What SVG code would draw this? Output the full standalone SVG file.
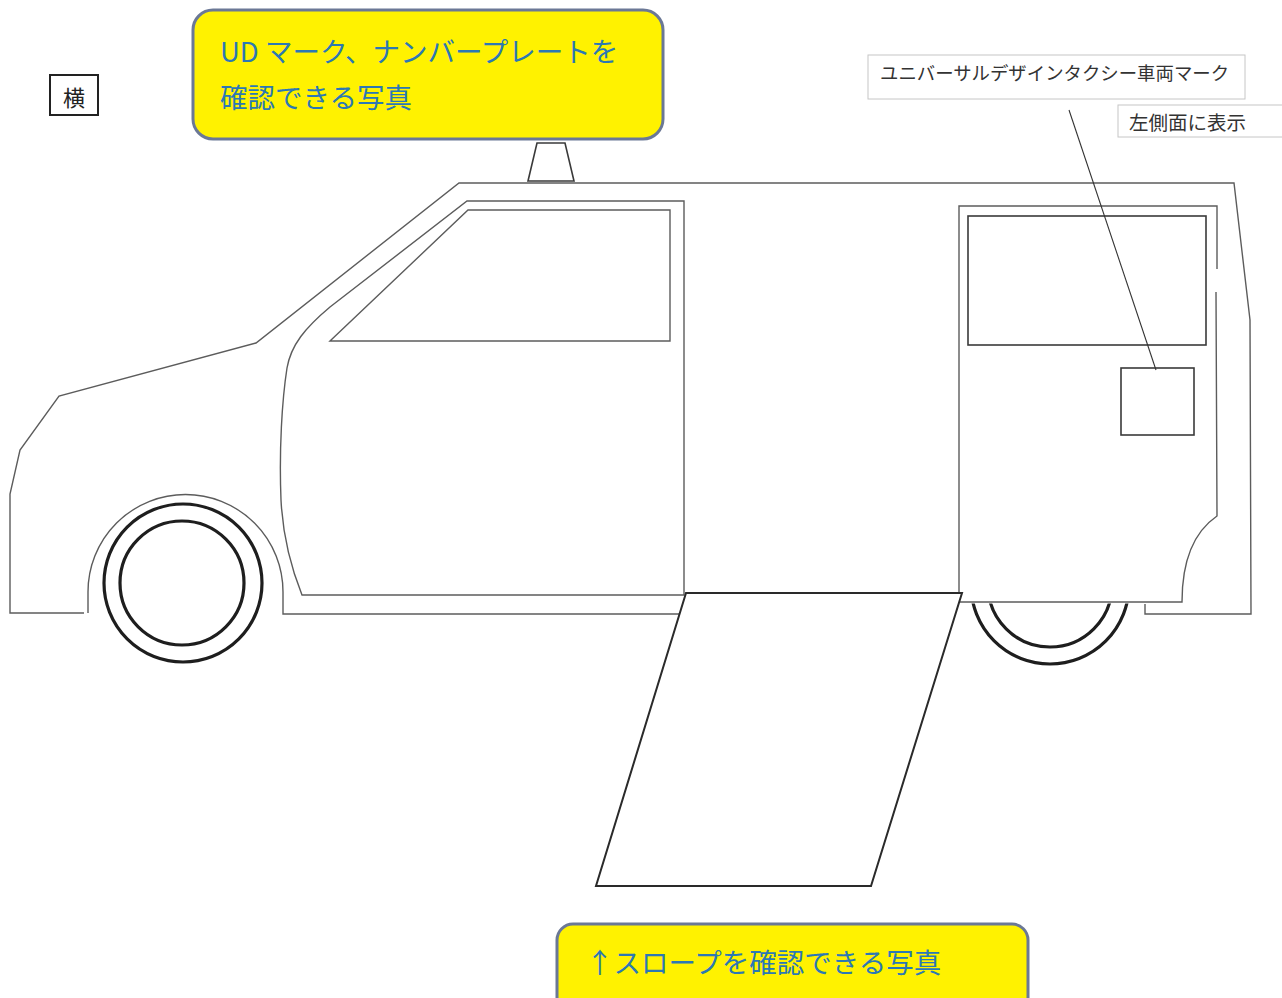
<svg xmlns="http://www.w3.org/2000/svg" width="1282" height="998" viewBox="0 0 1282 998">
  <style>
    .body { fill: none; stroke: #5c5c5c; stroke-width: 1.4; stroke-linejoin: miter; }
    .dark { fill: none; stroke: #3a3a3a; stroke-width: 1.6; }
    .tyre { fill: none; stroke: #1e1e1e; stroke-width: 3.2; }
    .callout { fill: #fff200; stroke: #6b7896; stroke-width: 3; }
    .callout-text { font-family: "Noto Sans CJK JP", "Noto Sans", sans-serif; font-size: 27.5px; fill: #2c78b4; }
    .label-box { fill: #ffffff; stroke: #c6c6c6; stroke-width: 1; }
    .label-text { font-family: "Noto Sans CJK JP", "Noto Sans", sans-serif; fill: #333333; }
    .leader { fill: none; stroke: #333333; stroke-width: 1.1; }
  </style>
  <defs>
    <clipPath id="below-door">
      <rect x="900" y="603.5" width="300" height="100"/>
    </clipPath>
  </defs>

  <rect width="1282" height="998" fill="#ffffff"/>

  <!-- view tag -->
  <g id="view-tag">
    <rect x="50" y="75" width="48" height="40" fill="#ffffff" stroke="#222222" stroke-width="2"/>
    <text x="74" y="105.5" text-anchor="middle" font-family="Noto Sans CJK JP, sans-serif" font-size="22" fill="#222222">横</text>
  </g>

  <!-- body shell -->
  <g id="body">
    <path class="body" d="M84,613 L10,613 L10,494 L20,450 L59,396 L256,343 L459,183 L1234,183 L1250,320 L1251,614 L1145,614 L1145,604"/>
    <path class="body" d="M88,613 L88,592 A97.5,97.5 0 0 1 283,592 L283,614 L680,614"/>
  </g>

  <!-- roof light -->
  <g id="roof-light">
    <path class="dark" d="M528,181 L537,143 L565,143 L574,181 Z" fill="#ffffff"/>
  </g>

  <!-- front door and window -->
  <g id="front-door">
    <path class="body" d="M302,595 C292,570 283,540 281,500 C279,450 282,400 287,368 C291,345 305,328 330,307 L467,201 L684,201 L684,595 Z"/>
    <path class="body" d="M330,341 L468,210 L670,210 L670,341 Z"/>
  </g>

  <!-- sliding rear door, window and mark area -->
  <g id="rear-door">
    <path class="body" d="M1217,269 L1217,206 L959,206 L959,602 L1182,602 Q1182,540 1217,516 L1216,292"/>
    <rect class="dark" x="968" y="216" width="238" height="129"/>
  </g>

  <g id="ud-mark">
    <rect class="dark" x="1121" y="368" width="73" height="67" stroke-width="1.3"/>
  </g>

  <!-- wheels -->
  <g id="front-wheel">
    <circle class="tyre" cx="183" cy="583" r="79"/>
    <circle class="tyre" cx="182" cy="583" r="62"/>
  </g>
  <g id="rear-wheel" clip-path="url(#below-door)">
    <circle class="tyre" cx="1050" cy="585" r="79"/>
    <circle class="tyre" cx="1050" cy="585" r="62"/>
  </g>

  <!-- deployed slope -->
  <g id="slope">
    <path d="M686,593 L962,593 L871,886 L596,886 Z" fill="#ffffff" stroke="#2a2a2a" stroke-width="2"/>
  </g>

  <!-- caption labels -->
  <g id="label-mark">
    <rect class="label-box" x="868" y="55" width="377" height="44"/>
    <text class="label-text" x="880" y="80" font-size="18.4">ユニバーサルデザインタクシー車両マーク</text>
  </g>
  <g id="label-side">
    <rect class="label-box" x="1118" y="105" width="170" height="32"/>
    <text class="label-text" x="1129" y="129.5" font-size="19.5">左側面に表示</text>
  </g>

  <!-- photo callouts -->
  <g id="callout-top">
    <rect class="callout" x="193" y="10" width="470" height="129" rx="20" ry="20"/>
    <text class="callout-text" x="220" y="61.5">UD マーク、ナンバープレートを</text>
    <text class="callout-text" x="220" y="108">確認できる写真</text>
  </g>
  <g id="callout-bottom">
    <rect class="callout" x="557" y="924" width="471" height="100" rx="16" ry="16"/>
    <text class="callout-text" x="586" y="973">↑スロープを確認できる写真</text>
  </g>

  <!-- connectors -->
  <g id="connectors">
    <line class="leader" x1="1069" y1="110" x2="1156" y2="370"/>
  </g>
</svg>
